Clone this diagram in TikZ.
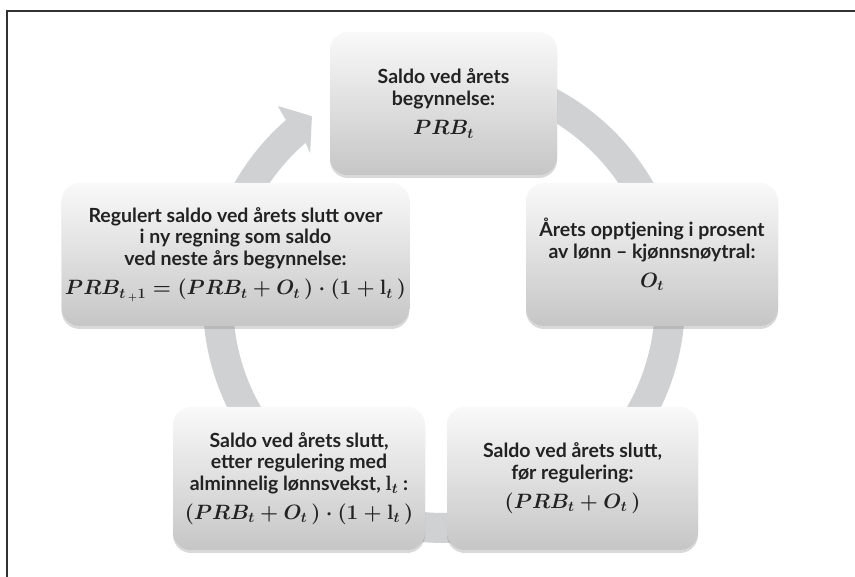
\documentclass[tikz,border=0pt]{standalone}
\usepackage{amsmath}
\usepackage{bm}
\usepackage{fontspec}
\setmainfont{Lato}
\usepackage{tikz}
\usetikzlibrary{shadows}
\usepackage{xcolor}
\definecolor{ringgray}{RGB}{208,209,211}
\definecolor{boxtop}{RGB}{249,249,249}
\definecolor{boxbot}{RGB}{198,198,198}
\definecolor{textdark}{RGB}{34,34,34}
\definecolor{framedark}{RGB}{50,50,50}
\newcommand{\boxeq}[1]{{\fontsize{20.5}{22}\selectfont$#1$}}
\tikzstyle{cyclebox} = [rounded corners=18pt, top color=boxtop, bottom color=boxbot, minimum height=143pt, align=center, text=textdark, font=\fontsize{19.5}{21.5}\selectfont\bfseries\boldmath, drop shadow={shadow xshift=0pt, shadow yshift=-3pt, opacity=0.3}]

\begin{document}
\begin{tikzpicture}[x=1pt, y=1pt]
\useasboundingbox (0,0) rectangle (855,577);

% Frame
\draw[framedark, line width=2.2pt] (7,0) -- (7,566) -- (855,566);

% Cycle arrow
\begin{scope}[shift={(444,275)}]
\fill[ringgray] (85:241) arc[start angle=85, end angle=-229, radius=241]
  -- (-229.7:257) -- (-234.6:228) -- (-228:200) -- (-229:211)
  arc[start angle=-229, end angle=85, radius=211] -- cycle;
\end{scope}

% Boxes
\node[cyclebox, minimum width=227pt] (saldostart) at (443.5,473.5)
  {Saldo ved årets\\ begynnelse:\\[8pt] \boxeq{PRB_t}};
\node[cyclebox, minimum width=252pt] (opptjening) at (652,322.5)
  {Årets opptjening i prosent\\ av lønn – kjønnsnøytral:\\[8pt] \boxeq{O_t}};
\node[cyclebox, minimum width=251pt] (forreg) at (572.5,98.5)
  {Saldo ved årets slutt,\\ før regulering:\\[8pt] \boxeq{(PRB_t+O_t\,)}};
\node[cyclebox, minimum width=252pt] (etterreg) at (299,98.5)
  {Saldo ved årets slutt,\\ etter regulering med\\ alminnelig lønnsvekst, $\mathbf{l}_t$ :\\[8pt]
   \boxeq{(PRB_t+O_t\,)\cdot(1+\mathbf{l}_t\,)}};
\node[cyclebox, minimum width=339pt] (regulert) at (235.5,322.5)
  {Regulert saldo ved årets slutt over\\ i ny regning som saldo\\ ved neste års begynnelse:\\[8pt]
   \boxeq{PRB_{t\,{}_{+}1}=(PRB_t+O_t\,)\cdot(1+\mathbf{l}_t\,)}};
\end{tikzpicture}
\end{document}
